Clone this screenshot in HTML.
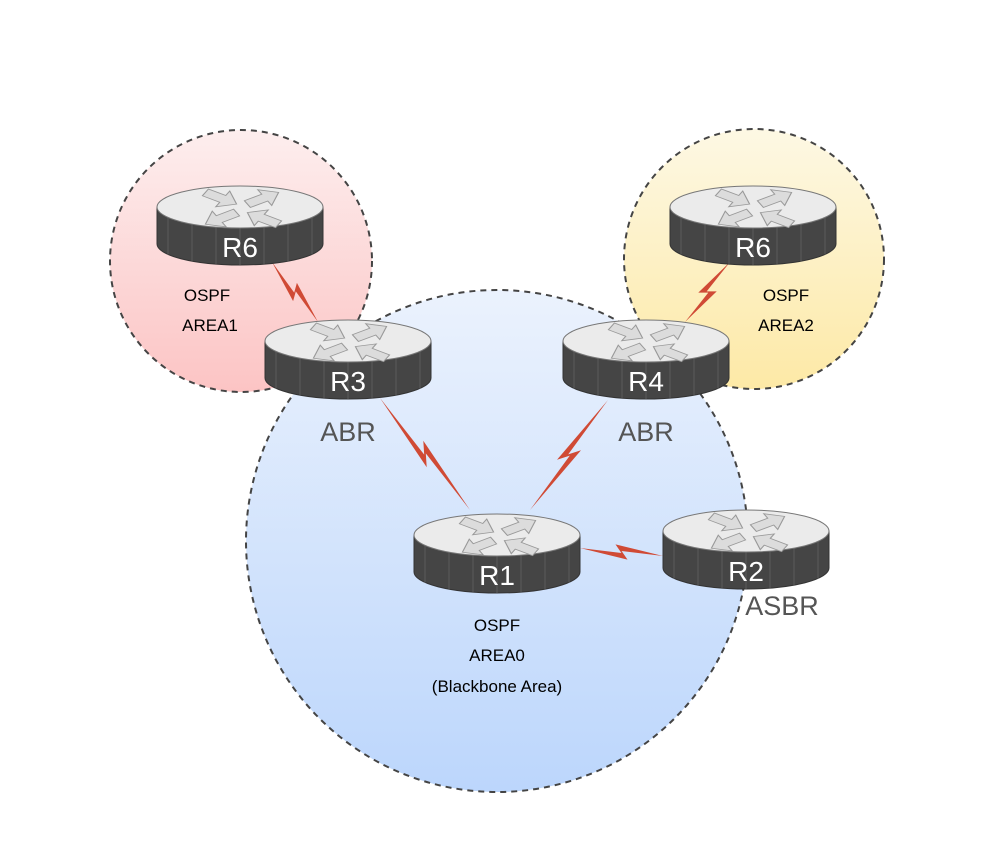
<!DOCTYPE html>
<html><head><meta charset="utf-8"><style>
html,body{margin:0;padding:0;background:#fff;}
svg{display:block;font-family:"Liberation Sans",Arial,sans-serif;}
</style></head><body>
<svg id="s" width="992" height="854" viewBox="0 0 992 854" xmlns="http://www.w3.org/2000/svg">
<defs>
<linearGradient id="gp" x1="0" y1="0" x2="0" y2="1"><stop offset="0" stop-color="#fdeeee"/><stop offset="1" stop-color="#fcc4c4"/></linearGradient>
<linearGradient id="gy" x1="0" y1="0" x2="0" y2="1"><stop offset="0" stop-color="#fdf8e4"/><stop offset="1" stop-color="#fde9a6"/></linearGradient>
<linearGradient id="gb" x1="0" y1="0" x2="0" y2="1"><stop offset="0" stop-color="#ebf2fd"/><stop offset="1" stop-color="#bcd6fc"/></linearGradient>
<polygon id="ar" points="-18,-6 2,-6 2,-14 18,0 2,14 2,6 -18,6" fill="#dcdcdc" stroke="#999" stroke-width="1.2"/>
<g id="arrows">
<g transform="scale(1,0.65)">
<use href="#ar" transform="translate(-20,-15) rotate(30)"/>
<use href="#ar" transform="translate(22,-15) rotate(-30)"/>
<use href="#ar" transform="translate(-20,16) rotate(150)"/>
<use href="#ar" transform="translate(22,16) rotate(-150)"/>
</g>
</g>
</defs>
<circle cx="241" cy="261" r="131" fill="url(#gp)" stroke="#444" stroke-width="2" stroke-dasharray="6,5"/>
<circle cx="754" cy="259" r="130" fill="url(#gy)" stroke="#444" stroke-width="2" stroke-dasharray="6,5"/>
<circle cx="497" cy="541" r="251" fill="url(#gb)" stroke="#444" stroke-width="2" stroke-dasharray="6,5"/>
<g id="links" fill="#d04a35"></g>
<g id="routers"></g>
<g font-size="17" fill="#000" text-anchor="middle">
<text x="207" y="301">OSPF</text><text x="210" y="331">AREA1</text>
<text x="786" y="301">OSPF</text><text x="786" y="331">AREA2</text>
<text x="497" y="631">OSPF</text><text x="497" y="661">AREA0</text><text x="497" y="692">(Blackbone Area)</text>
</g>
<g font-size="27" fill="#555" text-anchor="middle">
<text x="348" y="441">ABR</text><text x="646" y="441">ABR</text><text x="782" y="615">ASBR</text>
</g>
</svg>
<script>
var NS="http://www.w3.org/2000/svg";
function el(t,a,p){var e=document.createElementNS(NS,t);for(var k in a)e.setAttribute(k,a[k]);p.appendChild(e);return e;}
var R=document.getElementById("routers");
[[240,207,"R6"],[753,207,"R6"],[348,341,"R3"],[646,341,"R4"],[497,535,"R1"],[746,531,"R2"]].forEach(function(r){
var x=r[0],y=r[1],rx=83,ry=21,h=37;
var g=el("g",{},R);
el("path",{d:"M"+(x-rx)+","+y+" L"+(x-rx)+","+(y+h)+" A"+rx+","+ry+" 0 0 0 "+(x+rx)+","+(y+h)+" L"+(x+rx)+","+y+" Z",fill:"#454545",stroke:"#333","stroke-width":1},g);
for(var i=-3;i<=3;i++){var xx=x+i*24;var f=ry*Math.sqrt(Math.max(0,1-(i*24/rx)*(i*24/rx)));el("line",{x1:xx,y1:y+f,x2:xx,y2:y+h+f,stroke:"#5a5a5a","stroke-width":1},g);}
el("ellipse",{cx:x,cy:y,rx:rx,ry:ry,fill:"#ebebeb",stroke:"#777","stroke-width":1},g);
el("use",{href:"#arrows",transform:"translate("+(x+1)+","+(y+1)+")"},g);
var t=el("text",{x:x,y:y+50,"font-size":"28","fill":"#fff","text-anchor":"middle"},g);t.textContent=r[2];
});
var L=document.getElementById("links");
function bolt(x1,y1,x2,y2){
var dx=x2-x1,dy=y2-y1,len=Math.hypot(dx,dy),nx=-dy/len,ny=dx/len;
function P(f,o){return (x1+dx*f+nx*o).toFixed(1)+","+(y1+dy*f+ny*o).toFixed(1);}
el("polygon",{points:[P(0,0),P(0.58,7),P(0.5,-1),P(1,0),P(0.42,-7),P(0.5,1)].join(" ")},L);
}
bolt(272,262,318,322);bolt(380,398,470,510);bolt(608,400,530,510);bolt(730,262,685,322);bolt(580,548,663,556);
</script>
</body></html>
